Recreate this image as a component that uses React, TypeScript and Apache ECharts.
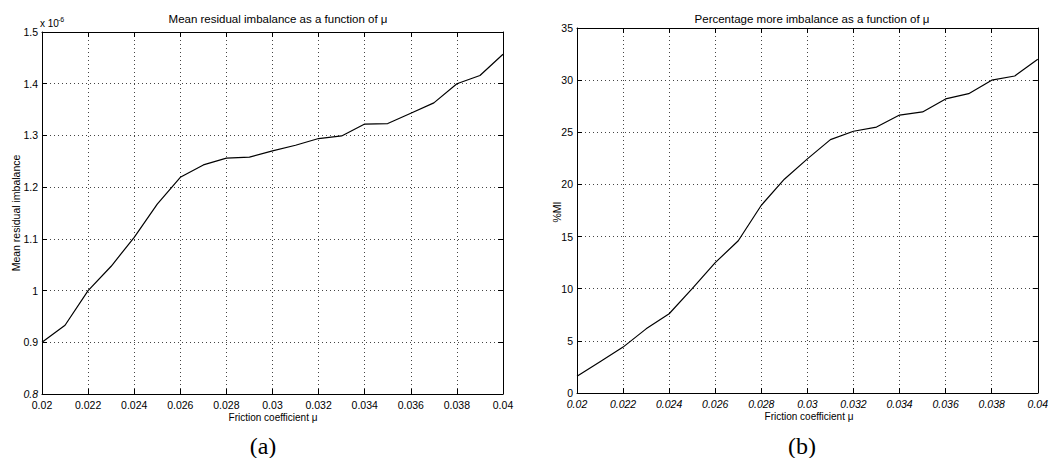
import React, { useEffect, useRef } from "react";
import * as echarts from "echarts";

// Friction coefficient mu (shared x values)
const muValues = [0.02, 0.021, 0.022, 0.023, 0.024, 0.025, 0.026, 0.027, 0.028, 0.029, 0.03, 0.031, 0.032, 0.033, 0.034, 0.035, 0.036, 0.037, 0.038, 0.039, 0.04];
// Mean residual imbalance, in units of 1e-6
const meanResidual = [0.9, 0.933, 1.0, 1.047, 1.103, 1.167, 1.219, 1.243, 1.256, 1.258, 1.27, 1.281, 1.294, 1.299, 1.322, 1.323, 1.343, 1.363, 1.4, 1.416, 1.457];
// Percentage more imbalance (%MI)
const percentMore = [1.6, 3.0, 4.4, 6.15, 7.6, 10.0, 12.5, 14.6, 18.0, 20.5, 22.45, 24.3, 25.1, 25.5, 26.65, 26.95, 28.2, 28.7, 30.0, 30.4, 32.0];

const leftTitle = "Mean residual imbalance as a function of \u03bc";
const rightTitle = "Percentage more imbalance as a function of \u03bc";
const xName = "Friction coefficient \u03bc";
const leftYName = "Mean residual imbalance";
const rightYName = "%MI";

const FONT = "'Liberation Sans', Arial, Helvetica, sans-serif";
const SERIF = "'Liberation Serif', 'DejaVu Serif', serif";

export default function App() {
  const ref = useRef<HTMLDivElement>(null);
  useEffect(() => {
    if (!ref.current) return;
    const chart = echarts.init(ref.current, null, { renderer: "svg" });
    const fmtX = (v: number) => String(+v.toFixed(3));
    const labelBase = { color: "#000", fontFamily: FONT, fontSize: 10.5 };
    const split = { show: true, lineStyle: { color: "#444", type: [1, 3] as any, width: 1 } };
    const xAxisBase = (gi: number, italic: boolean) => ({
      type: "value",
      gridIndex: gi,
      min: 0.02,
      max: 0.04,
      interval: 0.002,
      axisLine: { show: true, onZero: false, lineStyle: { color: "#000", width: 1 } },
      axisTick: { show: true, inside: true, length: 5, lineStyle: { color: "#000" } },
      axisLabel: { ...labelBase, fontStyle: italic ? "italic" : "normal", margin: 5, formatter: fmtX },
      splitLine: split,
    });
    const topAxis = (gi: number) => ({
      type: "value",
      gridIndex: gi,
      position: "top",
      min: 0.02,
      max: 0.04,
      interval: 0.002,
      axisLine: { show: true, onZero: false, lineStyle: { color: "#000", width: 1 } },
      axisTick: { show: true, inside: true, length: 5, lineStyle: { color: "#000" } },
      axisLabel: { show: false },
      splitLine: { show: false },
    });
    const rightAxis = (gi: number, min: number, max: number, interval: number) => ({
      type: "value",
      gridIndex: gi,
      position: "right",
      min,
      max,
      interval,
      axisLine: { show: true, onZero: false, lineStyle: { color: "#000", width: 1 } },
      axisTick: { show: true, inside: true, length: 5, lineStyle: { color: "#000" } },
      axisLabel: { show: false },
      splitLine: { show: false },
    });

    chart.setOption({
      animation: false,
      backgroundColor: "#fff",
      grid: [
        { left: 42, right: 548, top: 32, bottom: 64 },
        { left: 577, right: 9, top: 28, bottom: 65 },
      ],
      xAxis: [xAxisBase(0, false), xAxisBase(1, true), topAxis(0), topAxis(1)],
      yAxis: [
        {
          type: "value",
          gridIndex: 0,
          min: 0.8,
          max: 1.5,
          interval: 0.1,
          axisLine: { show: true, onZero: false, lineStyle: { color: "#000", width: 1 } },
          axisTick: { show: true, inside: true, length: 5, lineStyle: { color: "#000" } },
          axisLabel: {
            ...labelBase,
            margin: 4,
            formatter: (v: number) => {
              const s = String(+v.toFixed(1));
              return Math.abs(v - 0.8) < 1e-9 ? "{i|" + s + "}" : s;
            },
            rich: { i: { ...labelBase, fontStyle: "italic" } },
          },
          splitLine: split,
        },
        {
          type: "value",
          gridIndex: 1,
          min: 0,
          max: 35,
          interval: 5,
          axisLine: { show: true, onZero: false, lineStyle: { color: "#000", width: 1 } },
          axisTick: { show: true, inside: true, length: 5, lineStyle: { color: "#000" } },
          axisLabel: { ...labelBase, margin: 4 },
          splitLine: split,
        },
        rightAxis(0, 0.8, 1.5, 0.1),
        rightAxis(1, 0, 35, 5),
      ],
      series: [
        {
          type: "line",
          xAxisIndex: 0,
          yAxisIndex: 0,
          data: muValues.map((m, i) => [m, meanResidual[i]]),
          showSymbol: false,
          lineStyle: { color: "#000", width: 1.2 },
        },
        {
          type: "line",
          xAxisIndex: 1,
          yAxisIndex: 1,
          data: muValues.map((m, i) => [m, percentMore[i]]),
          showSymbol: false,
          lineStyle: { color: "#000", width: 1.2 },
        },
      ],
      graphic: [
        { type: "text", x: 278, y: 19, style: { text: leftTitle, font: `11.5px ${FONT}`, fill: "#000", align: "center", verticalAlign: "middle" } },
        { type: "text", x: 812, y: 19, style: { text: rightTitle, font: `11.5px ${FONT}`, fill: "#000", align: "center", verticalAlign: "middle" } },
        { type: "text", x: 40, y: 23, style: { text: "x 10", font: `10px ${FONT}`, fill: "#000", align: "left", verticalAlign: "middle" } },
        { type: "text", x: 58, y: 19, style: { text: "-6", font: `7px ${FONT}`, fill: "#000", align: "left", verticalAlign: "middle" } },
        { type: "text", x: 273, y: 417, style: { text: xName, font: `10px ${FONT}`, fill: "#000", align: "center", verticalAlign: "middle" } },
        { type: "text", x: 809, y: 416, style: { text: xName, font: `10px ${FONT}`, fill: "#000", align: "center", verticalAlign: "middle" } },
        { type: "text", x: 16, y: 213, rotation: Math.PI / 2, style: { text: leftYName, font: `10.5px ${FONT}`, fill: "#000", align: "center", verticalAlign: "middle" } },
        { type: "text", x: 557, y: 212, rotation: Math.PI / 2, style: { text: rightYName, font: `10.5px ${FONT}`, fill: "#000", align: "center", verticalAlign: "middle" } },
        { type: "text", x: 263, y: 446, style: { text: "(a)", font: `24px ${SERIF}`, fill: "#000", align: "center", verticalAlign: "middle" } },
        { type: "text", x: 802, y: 446, style: { text: "(b)", font: `24px ${SERIF}`, fill: "#000", align: "center", verticalAlign: "middle" } },
      ],
    });
    return () => chart.dispose();
  }, []);
  return (
    <div
      ref={ref}
      style={{ position: "fixed", left: 0, top: 0, width: 1051, height: 458, background: "#fff" }}
    />
  );
}
